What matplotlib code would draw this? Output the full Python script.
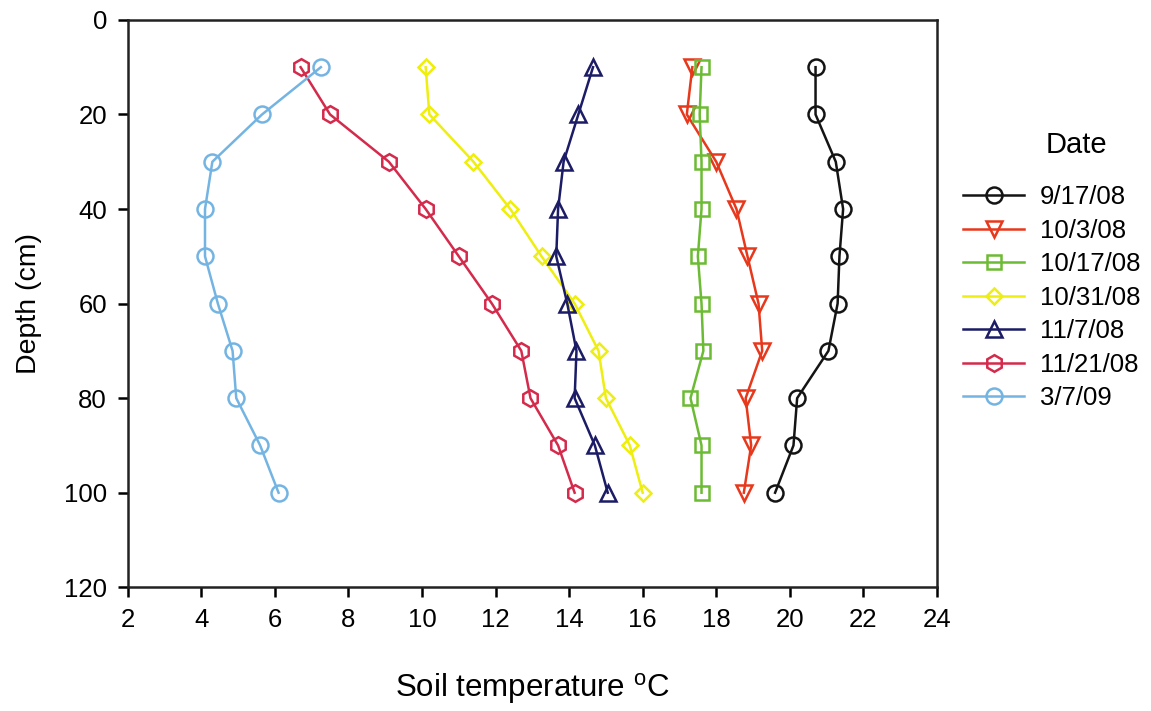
import matplotlib
matplotlib.use("Agg")
import matplotlib.pyplot as plt

plt.rcParams['font.family'] = ['Liberation Sans', 'DejaVu Sans']

# depth of each reading (cm)
depth = [10, 20, 30, 40, 50, 60, 70, 80, 90, 100]

# soil temperature (deg C) per sampling date
t_0917 = [20.7, 20.7, 21.25, 21.45, 21.35, 21.3, 21.05, 20.2, 20.1, 19.6]
t_1003 = [17.35, 17.2, 18.0, 18.55, 18.85, 19.15, 19.25, 18.8, 18.95, 18.75]
t_1017 = [17.6, 17.55, 17.6, 17.6, 17.5, 17.6, 17.65, 17.3, 17.6, 17.6]
t_1031 = [10.1, 10.2, 11.4, 12.4, 13.25, 14.15, 14.8, 15.0, 15.65, 16.0]
t_1107 = [14.65, 14.25, 13.85, 13.7, 13.65, 13.95, 14.2, 14.15, 14.7, 15.05]
t_1121 = [6.7, 7.5, 9.1, 10.1, 11.0, 11.9, 12.7, 12.95, 13.7, 14.15]
t_0307 = [7.25, 5.65, 4.3, 4.1, 4.1, 4.45, 4.85, 4.95, 5.6, 6.1]

dates = ['9/17/08', '10/3/08', '10/17/08', '10/31/08', '11/7/08', '11/21/08', '3/7/09']
series = [t_0917, t_1003, t_1017, t_1031, t_1107, t_1121, t_0307]
colors = ['#141414', '#e8381c', '#6cbb34', '#eeee10', '#1c1c66', '#d42a4c', '#74b4e2']
markers = ['o', 'v', 's', 'D', '^', 'h', 'o']
msizes = [11.5, 12, 10, 8.5, 12, 12, 11.5]

fig = plt.figure(figsize=(11.51, 7.11), dpi=100)
ax = fig.add_axes([0.111, 0.174, 0.703, 0.798])

for temps, lab, c, m, ms in zip(series, dates, colors, markers, msizes):
    ax.plot(temps, depth, color=c, marker=m, markersize=ms, markerfacecolor='none',
            markeredgecolor=c, markeredgewidth=1.8, linewidth=1.8, label=lab)

ax.set_xlim(2, 24)
ax.set_ylim(120, 0)
ax.set_xticks(range(2, 25, 2))
ax.set_yticks(range(0, 121, 20))
ax.tick_params(direction='out', length=7, width=1.8, labelsize=18.5, pad=8)
for s in ax.spines.values():
    s.set_linewidth(1.8)
    s.set_color('#222222')

ax.set_xlabel('Soil temperature $^{\\mathregular{o}}$C', fontsize=22.5, labelpad=28)
ax.set_ylabel('Depth (cm)', fontsize=20.5, labelpad=16)

# legend, with its title placed separately over the label column
ax.legend(loc='upper left', bbox_to_anchor=(1.032, 0.709),
          frameon=False, fontsize=18.5, handlelength=2.4, handletextpad=0.6,
          labelspacing=0.37, borderpad=0, borderaxespad=0)
ax.text(1.172, 0.7795, 'Date', transform=ax.transAxes, fontsize=21,
        ha='center', va='center')

fig.savefig('out.png', dpi=100)
